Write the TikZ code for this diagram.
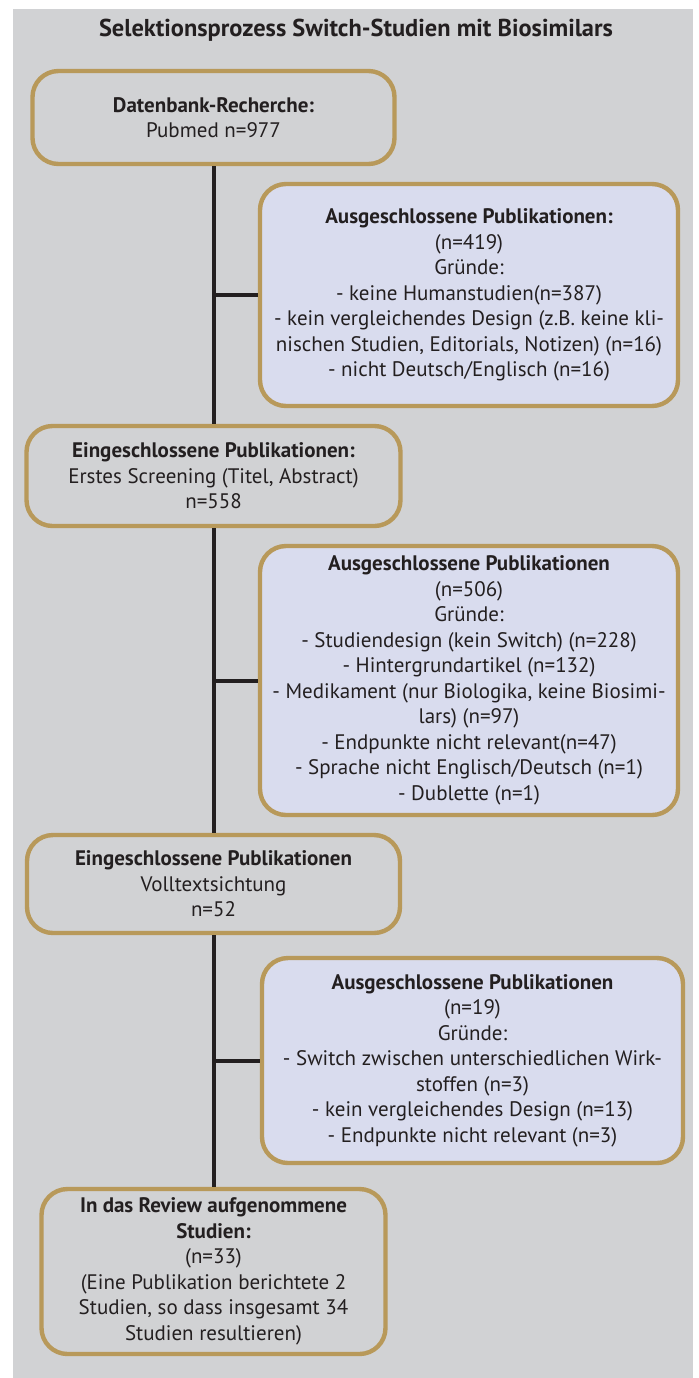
\documentclass[tikz,border=0pt]{standalone}
\usepackage{fontspec}
\setmainfont{PT Sans}
\definecolor{bggray}{HTML}{D1D2D4}
\definecolor{boxgold}{HTML}{B8995A}
\definecolor{exclfill}{HTML}{D9DCEE}
\definecolor{textdark}{HTML}{231F20}

\begin{document}
\begin{tikzpicture}[x=0.5pt, y=-0.5pt,
    box/.style={rectangle, rounded corners=13pt, draw=boxgold, line width=2.2pt,
        align=center, inner sep=0pt, text=textdark,
        font=\fontsize{10.5}{12.75}\selectfont},
    incl/.style={box, fill=bggray},
    excl/.style={box, fill=exclfill},
    link/.style={line width=2pt, draw=textdark}]
                \fill[bggray] (13,9) rectangle (693,1378);
                \useasboundingbox (0,0) rectangle (699,1378);
                \node[text=textdark, font=\bfseries\fontsize{12.2}{14}\selectfont] (title) at (356,30) {Selektionsprozess Switch-Studien mit Biosimilars};
                \node[incl, minimum width=181pt, minimum height=46.5pt] (search) at (213.5,117.5)
                    {\textbf{Datenbank-Recherche:}\\Pubmed n=977};
                \node[excl, minimum width=209pt, minimum height=111pt] (excl1) at (469,295)
                    {\textbf{Ausgeschlossene Publikationen:}\\(n=419)\\Gründe:\\- keine Humanstudien(n=387)\\- kein vergleichendes Design (z.B. keine kli-\\nischen Studien, Editorials, Notizen) (n=16)\\- nicht Deutsch/Englisch (n=16)};
                \node[incl, minimum width=187pt, minimum height=50pt] (screen) at (213.5,476)
                    {\textbf{Eingeschlossene Publikationen:}\\Erstes Screening (Titel, Abstract)\\n=558};
                \node[excl, minimum width=209pt, minimum height=134.5pt] (excl2) at (469,680.5)
                    {\textbf{Ausgeschlossene Publikationen}\\(n=506)\\Gründe:\\- Studiendesign (kein Switch) (n=228)\\- Hintergrundartikel (n=132)\\- Medikament (nur Biologika, keine Biosimi-\\lars) (n=97)\\- Endpunkte nicht relevant(n=47)\\- Sprache nicht Englisch/Deutsch (n=1)\\- Dublette (n=1)};
                \node[incl, minimum width=186.5pt, minimum height=49pt] (fulltext) at (213.5,884)
                    {\textbf{Eingeschlossene Publikationen}\\Volltextsichtung\\n=52};
                \node[excl, minimum width=210.5pt, minimum height=102.5pt] (excl3) at (472.5,1060.5)
                    {\textbf{Ausgeschlossene Publikationen}\\(n=19)\\Gründe:\\- Switch zwischen unterschiedlichen Wirk-\\stoffen (n=3)\\- kein vergleichendes Design (n=13)\\- Endpunkte nicht relevant (n=3)};
                \node[incl, minimum width=172pt, minimum height=82.5pt] (review) at (213.5,1271.5)
                    {\textbf{In das Review aufgenommene}\\\textbf{Studien:}\\(n=33)\\(Eine Publikation berichtete 2\\Studien, so dass insgesamt 34\\Studien resultieren)};
                \draw[link] (search) -- (screen);
                \draw[link] (screen) -- (fulltext);
                \draw[link] (fulltext) -- (review);
                \draw[link] (excl1.west -| search.south) -- (excl1);
                \draw[link] (excl2.west -| screen.south) -- (excl2);
                \draw[link] (excl3.west -| fulltext.south) -- (excl3);
\end{tikzpicture}
\end{document}
